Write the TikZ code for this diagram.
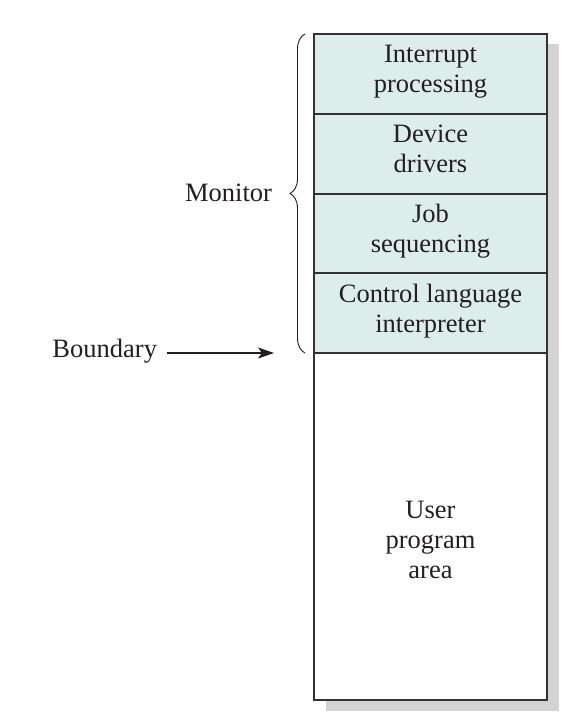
\documentclass[tikz,border=0pt]{standalone}
\usepackage{fontspec}
\setmainfont{Liberation Serif}
\usetikzlibrary{arrows.meta,decorations.pathreplacing}
\definecolor{rowfill}{HTML}{DDEEEA}
\definecolor{shadowgray}{HTML}{D3D3D3}
\definecolor{ink}{HTML}{231F20}
\definecolor{edge}{HTML}{333333}
\begin{document}
\begin{tikzpicture}[x=1pt,y=-1pt,
  every node/.style={font=\fontsize{26.5}{30}\selectfont, text=ink, inner sep=0pt, outer sep=0pt},
  rowbox/.style={draw=edge, line width=1.4pt, fill=rowfill, minimum width=233pt, anchor=north west},
  userbox/.style={draw=edge, line width=1.4pt, fill=white, minimum width=233pt, anchor=north west},
  lbl/.style={align=center, anchor=base},
  pointer/.style={draw=ink, line width=1.3pt, -{Stealth[length=16pt,width=11pt,inset=4pt]}},
  bracestyle/.style={draw=ink, line width=0.9pt, decorate, decoration={brace, amplitude=15pt, aspect=0.5}}]
\useasboundingbox (0,0) rectangle (586,723);
% shadow
\fill[shadowgray] (326,44) rectangle (559,711);
% boxes
\node[userbox, minimum height=347pt] (user) at (314,353) {};
\node[rowbox, minimum height=80pt] (r1) at (314,34) {};
\node[rowbox, minimum height=80pt] (r2) at (314,114) {};
\node[rowbox, minimum height=80pt] (r3) at (314,194) {};
\node[rowbox, minimum height=80pt] (r4) at (314,273) {};
% labels (base = last line's baseline)
\node[lbl] (t1) at (430.5,92.5) {Interrupt\\processing};
\node[lbl] (t2) at (430.5,172.5) {Device\\drivers};
\node[lbl] (t3) at (430.5,252.5) {Job\\sequencing};
\node[lbl] (t4) at (430.5,332.5) {Control language\\interpreter};
\node[lbl] (t5) at (430.5,578) {User\\program\\area};
% brace
\coordinate (bb) at (305,353);
\coordinate (bt) at (305,34);
\draw[bracestyle] (bb) -- (bt);
\node[anchor=base east] (mon) at (272,201.5) {Monitor};
% boundary
\node[anchor=base east] (bnd) at (157,357.5) {Boundary};
\coordinate (bend) at (274,353);
\draw[pointer] (bnd.east |- bend) ++(10,0) -- (bend);
\end{tikzpicture}
\end{document}
